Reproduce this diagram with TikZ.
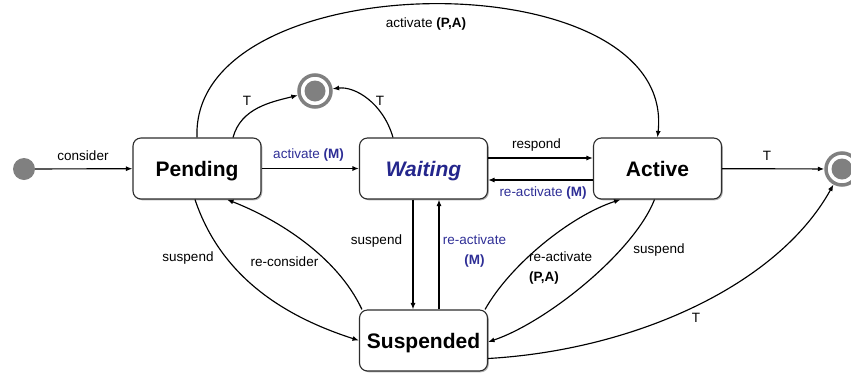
\documentclass[tikz,border=0pt]{standalone}
\usepackage{fontspec}
\setmainfont{Liberation Sans}
\usetikzlibrary{arrows.meta,shadows,calc}
\definecolor{fgray}{RGB}{128,128,128}
\definecolor{lblue}{RGB}{46,46,150}
\definecolor{wblue}{RGB}{36,38,140}
\definecolor{bord}{RGB}{45,45,45}
\begin{document}
\begin{tikzpicture}[x=1pt,y=-1pt,
  >={Latex[length=6.5pt,width=5pt]},
  state/.style={draw=bord, rounded corners=8pt, minimum width=128pt, minimum height=61pt,
    line width=1.1pt, fill=white, font=\fontsize{21}{25}\selectfont\bfseries,
    text height=16pt, text depth=0pt,
    drop shadow={shadow xshift=1.3pt, shadow yshift=-1.3pt, opacity=0.3, fill=black}},
  lbl/.style={font=\fontsize{13.5}{20}\selectfont, inner sep=0pt},
  edge/.style={->, line width=1.15pt},
  final/.style={circle, draw=fgray, line width=3.5pt, fill=white, minimum size=32pt, inner sep=0pt,
    path picture={\fill[fgray] (path picture bounding box.center) circle (10.5pt);}},
  initial/.style={circle, fill=fgray, minimum size=22pt, inner sep=0pt}
]
\useasboundingbox (0,0) rectangle (851,373);

\node[initial] (I) at (24,169) {};
\node[state] (P) at (197,168.5) {Pending};
\node[state, text=wblue, font=\fontsize{21}{25}\selectfont\bfseries\itshape] (W) at (423.5,168.5) {Waiting};
\node[state] (A) at (657.5,168.5) {Active};
\node[state] (S) at (423.5,340.5) {Suspended};
\node[final] (F1) at (315,91) {};
\node[final] (F2) at (842,169) {};

% connectors
\draw[edge] (I) -- (P);
\draw[edge] (P) -- (W);
\draw[edge] ([yshift=10.5pt]W.east) -- ([yshift=10.5pt]A.west);
\draw[edge] ([yshift=-11.5pt]A.west) -- ([yshift=-11.5pt]W.east);
\draw[edge] (A) -- (F2);
\draw[edge] ([xshift=36pt]P.north) .. controls (241,108) and (271,102) .. (F1);
\draw[edge] ([xshift=-30.5pt]W.north) .. controls (383,103) and (355,86) .. (F1);
\draw[edge] (P.north) .. controls (190,-38) and (677,-42) .. (A.north);
\draw[edge] ([xshift=-2pt]P.south) .. controls (222,280) and (289,318) .. (S.west);
\draw[edge] ([xshift=3pt]S.north west) .. controls (337,256) and (277,219) .. ([xshift=30pt]P.south);
\draw[edge] ([xshift=-10.5pt]W.south) -- ([xshift=-10.5pt]S.north);
\draw[edge] ([xshift=15.5pt]S.north) -- ([xshift=15.5pt]W.south);
\draw[edge] ([xshift=-3pt]S.north east) .. controls (510,265) and (570,216) .. ([xshift=-37pt]A.south);
\draw[edge] ([xshift=-3pt]A.south) .. controls (634,252) and (547,322) .. ([yshift=-1.5pt]S.east);
\draw[edge] ([yshift=-18pt]S.east) .. controls (635,350) and (778,285) .. (F2);

% labels
\node[lbl] (l1) at (83,156) {consider};
\node[lbl, text=lblue] (l2) at (308.5,155) {activate \textbf{(M)}};
\node[lbl] (l3) at (536.5,145) {respond};
\node[lbl, text=lblue] (l4) at (543,193) {re-activate \textbf{(M)}};
\node[lbl] (l5) at (767,156) {T};
\node[lbl] (l6) at (247,101) {T};
\node[lbl] (l7) at (380,101) {T};
\node[lbl] (l8) at (426,24) {activate \textbf{(P,A)}};
\node[lbl] (l9) at (188,258) {suspend};
\node[lbl] (l10) at (284.5,262) {re-consider};
\node[lbl] (l11) at (376.5,241) {suspend};
\node[lbl, text=lblue, align=center] (l12) at (474.5,251.5) {re-activate\\\textbf{(M)}};
\node[lbl, align=left, anchor=west] (l13) at (529,268) {re-activate\\\textbf{(P,A)}};
\node[lbl] (l14) at (659,250) {suspend};
\node[lbl] (l15) at (696,318) {T};
\end{tikzpicture}
\end{document}
